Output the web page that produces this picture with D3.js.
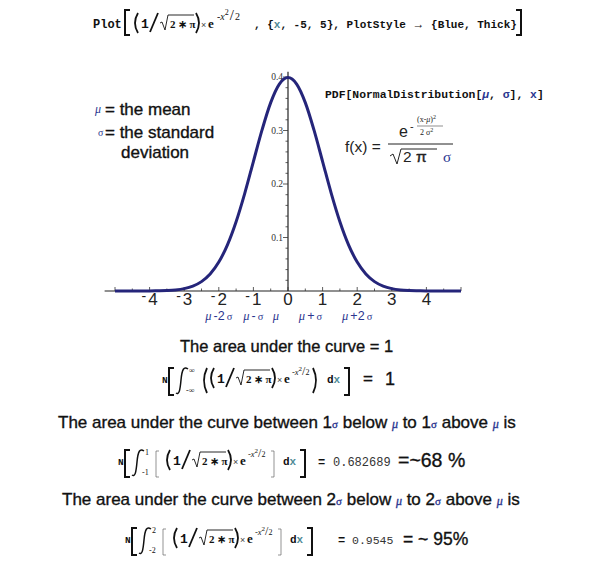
<!DOCTYPE html>
<html><head><meta charset="utf-8">
<script src="https://cdn.jsdelivr.net/npm/d3@7"></script>
<style>body{margin:0;background:#fff}svg{display:block}</style>
</head><body>
<svg id="c" width="590" height="573"></svg>
<script>
// ---- data ----
const xValues = [-5,-4.75,-4.5,-4.25,-4,-3.75,-3.5,-3.25,-3,-2.75,-2.5,-2.25,-2,-1.75,-1.5,-1.25,-1,-0.75,-0.5,-0.25,0,
                 0.25,0.5,0.75,1,1.25,1.5,1.75,2,2.25,2.5,2.75,3,3.25,3.5,3.75,4,4.25,4.5,4.75,5];
const yValues = [0,0,0,0,0.0001,0.0004,0.0009,0.002,0.0044,0.0091,0.0175,0.0317,0.054,0.0863,0.1295,0.1826,0.242,0.3011,0.3521,0.3867,0.3989,
                 0.3867,0.3521,0.3011,0.242,0.1826,0.1295,0.0863,0.054,0.0317,0.0175,0.0091,0.0044,0.002,0.0009,0.0004,0.0001,0,0,0,0];
const xTickValues = [-4,-3,-2,-1,0,1,2,3,4];
const xTickLabels = ["-4","-3","-2","-1","0","1","2","3","4"];
const yTickValues = [0.1,0.2,0.3,0.4];
const yTickLabels = ["0.1","0.2","0.3","0.4"];
const sigmaLabelX = [-2,-1,-0.35,0.65,2];
const sigmaLabelText = [["μ","-2","σ"],["μ","-","σ"],["μ","",""],["μ","+","σ"],["μ","+2","σ"]];

const SANS = "'Liberation Sans', Arial, sans-serif";
const SERIF = "'Liberation Serif', 'Times New Roman', serif";
const MONO = "'Liberation Mono', 'Courier New', monospace";
const BLUE = "#2b3690";
const TEAL = "#4f8a96";
const INK = "#111";
const CURVE = "#25257a";

const svg = d3.select("#c");
function txt(x, y, s, o = {}) {
  const t = svg.append("text").attr("x", x).attr("y", y).text(s)
    .attr("font-family", o.f || SANS).attr("font-size", o.s || 16)
    .attr("font-weight", o.w || "normal").attr("font-style", o.i ? "italic" : "normal")
    .attr("fill", o.c || INK).attr("text-anchor", o.a || "start");
  if (o.heavy) t.attr("stroke", o.c || INK).attr("stroke-width", o.heavy);
  if (o.ls) t.attr("letter-spacing", o.ls);
  return t;
}
function rich(x, y, parts, o = {}) {
  const t = svg.append("text").attr("x", x).attr("y", y)
    .attr("font-family", o.f || SANS).attr("font-size", o.s || 16).attr("fill", o.c || INK)
    .attr("text-anchor", o.a || "start");
  if (o.heavy) t.attr("stroke", o.c || INK).attr("stroke-width", o.heavy);
  parts.forEach(p => {
    const ts = t.append("tspan").text(p.t);
    if (p.f) ts.attr("font-family", p.f);
    if (p.s) ts.attr("font-size", p.s);
    if (p.c) ts.attr("fill", p.c).attr("stroke", o.heavy ? p.c : null);
    if (p.i) ts.attr("font-style", "italic");
    if (p.w) ts.attr("font-weight", p.w);
    if (p.dy) ts.attr("dy", p.dy);
    if (p.dx) ts.attr("dx", p.dx);
  });
  return t;
}
function path(d, o = {}) {
  return svg.append("path").attr("d", d).attr("fill", "none")
    .attr("stroke", o.c || INK).attr("stroke-width", o.w || 1.5);
}
function bracketL(x, top, bot, w = 5, sw = 2, c) { path(`M${x+w},${top}H${x}V${bot}H${x+w}`, {w: sw, c}); }
function bracketR(x, top, bot, w = 5, sw = 2, c) { path(`M${x},${top}H${x+w}V${bot}H${x}`, {w: sw, c}); }
function parenL(x, top, bot, o = {}) { path(`M${x+5},${top}Q${x-1},${(top+bot)/2} ${x+5},${bot}`, o); }
function parenR(x, top, bot, o = {}) { path(`M${x},${top}Q${x+6},${(top+bot)/2} ${x},${bot}`, o); }

// (1/√2*π) × e^(-x²/2)
function core(x, b, big) {
  parenL(x, b - 15, b + 5, {w: 1.8});
  txt(x + 8, b, "1", {f: MONO, s: 13, w: "bold"});
  path(`M${x+17},${b+4}L${x+25},${b-15}`, {w: 1.8});
  path(`M${x+27},${b-5}L${x+29},${b-6}L${x+32},${b+2}L${x+35},${b-13}H${x+61}`, {w: 0.9});
  txt(x + 37, b, "2∗π", {f: SERIF, s: 11, w: "bold", ls: 2.5});
  parenR(x + 63, b - 15, b + 5, {w: 1.8});
  txt(x + 68, b, "×", {f: SANS, s: 9, c: "#444"});
  txt(x + 75, b, "e", {f: SERIF, s: 13, w: "bold"});
  if (big) rich(x + 84, b - 8, [{t: "-x", i: true}, {t: "2", s: 8, dy: -5}, {t: "/", s: 15, dy: 5, dx: 1}, {t: "2", s: 10, dx: 1}], {f: SERIF, s: 10});
  else rich(x + 83, b - 8, [{t: "-x", i: true}, {t: "2", s: 7, dy: -4}, {t: "/", s: 12, dy: 4}, {t: "2", s: 8}], {f: SERIF, s: 8.5});
}

// title
txt(93, 28, "Plot", {f: MONO, s: 12, w: "bold"});
bracketL(125, 10, 35, 5, 2);
core(133, 28, true);
rich(254, 28, [{t: ", {"}, {t: "x", c: TEAL}, {t: ", -5, 5}, PlotStyle "}, {t: "→", f: SANS, s: 12, w: "normal"}, {t: " {Blue, Thick}"}], {f: MONO, s: 11, c: INK}).attr("font-weight", "bold");
bracketR(516, 10, 35, 5, 2);

// ---- chart ----
const x = d3.scaleLinear().domain([-5, 5]).range([115, 461]);
const y = d3.scaleLinear().domain([0, 0.4]).range([291, 77]);

// axes
path(`M${x(-5.3)},${y(0)}H${x(5)}`, {w: 1.2, c: "#222"});
path(`M${x(0)},${y(0)}V${y(0.41)}`, {w: 1.2, c: "#222"});
const xMinor = d3.range(-5, 5.01, 0.5);
svg.append("g").selectAll("line").data(xMinor).join("line")
  .attr("x1", d => x(d)).attr("x2", d => x(d))
  .attr("y1", y(0)).attr("y2", d => y(0) - (Number.isInteger(d) ? 4 : 2.5))
  .attr("stroke", "#333").attr("stroke-width", 0.8);
const yMinor = d3.range(0.02, 0.41, 0.02);
svg.append("g").selectAll("line").data(yMinor).join("line")
  .attr("x1", x(0)).attr("x2", d => x(0) - (Math.abs(d * 10 - Math.round(d * 10)) < 1e-6 ? 5 : 2.5))
  .attr("y1", d => y(d)).attr("y2", d => y(d))
  .attr("stroke", "#333").attr("stroke-width", 0.8);
svg.append("g").selectAll("text").data(yTickValues).join("text")
  .attr("x", x(0) - 5).attr("y", d => y(d) + 3).attr("text-anchor", "end")
  .attr("font-family", SERIF).attr("font-size", 9.5).attr("fill", "#333")
  .text((d, i) => yTickLabels[i]);

// x tick labels with raised minus
const xl = svg.append("g").selectAll("text").data(xTickValues).join("text")
  .attr("x", d => x(d)).attr("y", 305).attr("text-anchor", "middle")
  .attr("font-family", SANS).attr("font-size", 17).attr("fill", "#222");
xl.each(function (d, i) {
  const s = xTickLabels[i];
  const t = d3.select(this);
  if (s[0] === "-") {
    t.append("tspan").text("-").attr("dy", -4).attr("font-size", 14);
    t.append("tspan").text(s.slice(1)).attr("dy", 4).attr("dx", 2);
  } else t.text(s);
});

// sigma labels
sigmaLabelX.forEach((v, i) => {
  const [m, op, s] = sigmaLabelText[i];
  const parts = [{t: m, f: SERIF, i: true, s: 12.5}];
  if (op) parts.push({t: op, s: 12.5, dx: 2});
  if (s) parts.push({t: s, f: SERIF, s: 10.5, dx: 2});
  rich(x(v), 320, parts, {a: "middle", c: BLUE, s: 12.5});
});

// curve
const pts = xValues.map((v, i) => [v, yValues[i]]);
svg.append("path").datum(pts)
  .attr("d", d3.line().x(d => x(d[0])).y(d => y(d[1])).curve(d3.curveMonotoneX))
  .attr("fill", "none").attr("stroke", CURVE).attr("stroke-width", 3)
  .attr("stroke-linejoin", "round");

// left annotations
const HV = 0.35;
txt(95, 113, "μ", {f: SERIF, s: 12, i: true, c: BLUE});
txt(105, 115, "= the mean", {s: 17, heavy: HV});
txt(98, 136, "σ", {f: SERIF, s: 10, c: BLUE});
txt(105, 138, "= the standard", {s: 17, heavy: HV});
txt(121, 158, "deviation", {s: 17, heavy: HV});

// PDF formula
rich(325, 98, [{t: "PDF[NormalDistribution["}, {t: "μ", c: BLUE, i: true}, {t: ", "}, {t: "σ", c: BLUE},
  {t: "], "}, {t: "x", c: BLUE}, {t: "]"}], {f: MONO, s: 11.4}).attr("font-weight", "bold");
txt(345, 152, "f(x) =", {s: 15.5, c: "#222"});
path("M388,144H453", {w: 1, c: "#222"});
txt(399, 137, "e", {s: 16, c: "#222"});
txt(410, 130, "-", {s: 11, c: "#222"});
rich(417, 122, [{t: "(x-"}, {t: "μ", i: true}, {t: ")"}, {t: "2", s: 6, dy: -3}], {f: SERIF, s: 8, c: "#222"});
path("M417,126H443", {w: 0.6, c: "#444"});
rich(420, 135, [{t: "2 σ"}, {t: "2", s: 6, dy: -3}], {f: SERIF, s: 8, c: "#222"});
path("M390,156L393,154L397,164L401,149H437", {w: 1, c: "#222"});
txt(403, 162, "2", {s: 15.5, c: "#222"});
txt(416, 162, "π", {s: 15.5, c: "#222", heavy: 0.4});
txt(443, 162, "σ", {f: SERIF, s: 15, c: BLUE});

// lower text
txt(180, 352, "The area under the curve = 1", {s: 16.5, heavy: HV});

function integral(xN, b, lo, hi, light) {
  txt(xN, b, "N", {f: MONO, s: 9.5, w: "bold"});
  bracketL(xN + 7, b - 15, b + 12, 5, 2);
  path(`M${xN+14},${b+10}C${xN+17},${b+12} ${xN+18},${b+8} ${xN+19},${b-3}S${xN+22},${b-17} ${xN+26},${b-14}`, {w: 1.5});
  txt(xN + 27, b - 10, hi, {f: SERIF, s: 8});
  txt(xN + 24, b + 10, lo, {f: SERIF, s: 8});
  if (light) bracketL(xN + 38, b - 14, b + 12, 3, 0.7, "#666");
  else parenL(xN + 40, b - 15, b + 10, {w: 1.8});
  core(xN + 47, b, false);
  if (light) bracketR(xN + 153, b - 14, b + 12, 3, 0.7, "#666");
  else parenR(xN + 151, b - 15, b + 10, {w: 1.8});
  rich(xN + 165, b, [{t: "d"}, {t: "x", c: TEAL}], {f: MONO, s: 11}).attr("font-weight", "bold");
  bracketR(xN + 182, b - 15, b + 12, 5, 2);
}
integral(162, 383, "-∞", "∞", false);
txt(363, 384, "=", {s: 17, heavy: HV});
txt(385, 385, "1", {s: 18, heavy: HV});

rich(58, 428, [{t: "The area under the curve between 1"}, {t: "σ", f: SERIF, s: 11, c: BLUE},
  {t: " below "}, {t: "μ", f: SERIF, s: 12, i: true, c: BLUE}, {t: " to 1"}, {t: "σ", f: SERIF, s: 11, c: BLUE},
  {t: " above "}, {t: "μ", f: SERIF, s: 12, i: true, c: BLUE}, {t: " is"}], {s: 17, heavy: HV});
integral(118, 465, "-1", "1", true);
txt(318, 466, "=", {f: MONO, s: 12, w: "bold"});
txt(333, 466, "0.682689", {f: MONO, s: 12, c: "#333"});
txt(398, 467, "=~68 %", {s: 19.5, heavy: HV});

rich(62, 505, [{t: "The area under the curve between 2"}, {t: "σ", f: SERIF, s: 11, c: BLUE},
  {t: " below "}, {t: "μ", f: SERIF, s: 12, i: true, c: BLUE}, {t: " to 2"}, {t: "σ", f: SERIF, s: 11, c: BLUE},
  {t: " above "}, {t: "μ", f: SERIF, s: 12, i: true, c: BLUE}, {t: " is"}], {s: 17, heavy: HV});
integral(125, 543, "-2", "2", true);
txt(338, 544, "=", {f: MONO, s: 12, w: "bold"});
txt(352, 544, "0.9545", {f: MONO, s: 11.5, c: "#333"});
txt(403, 545, "= ~ 95%", {s: 17.5, heavy: HV});
</script>
</body></html>
